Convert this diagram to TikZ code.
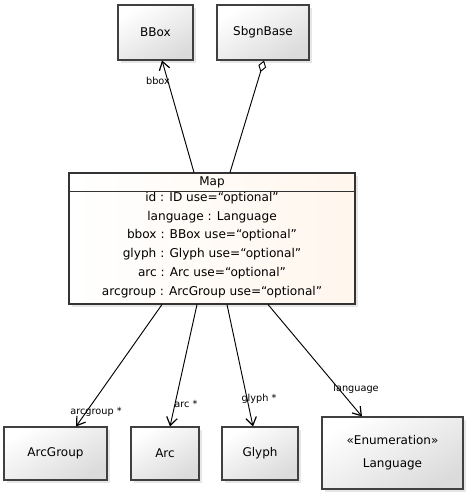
\documentclass[tikz,border=0pt]{standalone}
\usepackage{fontspec}
\setmainfont{DejaVu Sans}
\usetikzlibrary{arrows.meta,shadows}

\begin{document}
\begin{tikzpicture}[x=0.75pt, y=-0.75pt, every node/.style={font=\fontsize{9}{11}\selectfont},
	>={Straight Barb[length=6pt,width=8pt,line width=0.9pt]},
	cls/.style={draw=black!75, line width=0.8pt, top color=white, bottom color=black!14, shading angle=30, drop shadow={opacity=0.2, shadow xshift=2pt, shadow yshift=-2pt}, align=center},
	lbl/.style={font=\fontsize{7.3}{8}\selectfont, inner sep=0pt},
	assoc/.style={->, line width=0.7pt}]
	\useasboundingbox (0,0) rectangle (468,495);
	% upper classes
	\node[cls, minimum width=56.25pt, minimum height=41.25pt] (bbox) at (155.5,32.5) {BBox};
	\node[cls, minimum width=69pt, minimum height=41.25pt] (sbgnbase) at (263,32.5) {SbgnBase};
	% the Map class
	\node[draw=black!80, line width=0.8pt, left color=white, right color=orange!7, drop shadow={opacity=0.2, shadow xshift=2pt, shadow yshift=-2pt}, minimum width=214.5pt, minimum height=98.25pt] (map) at (212,238.5) {};
	\draw[black!80, line width=0.8pt] ([yshift=-14.25pt]map.north west) -- ([yshift=-14.25pt]map.north east);
	\node (maphead) at (212,182) {Map};
	\node[align=center, font=\fontsize{9.1}{14.1}\selectfont] (maprows) at (212,245) {id : ID use=“optional”\\ language : Language\\ bbox : BBox use=“optional”\\ glyph : Glyph use=“optional”\\ arc : Arc use=“optional”\\ arcgroup : ArcGroup use=“optional”};
	% lower classes
	\node[cls, minimum width=77.25pt, minimum height=39.75pt] (arcgroup) at (55.5,453.5) {ArcGroup};
	\node[cls, minimum width=51pt, minimum height=39.75pt] (arc) at (165,453.5) {Arc};
	\node[cls, minimum width=57pt, minimum height=39.75pt] (glyph) at (260,453.5) {Glyph};
	\node[cls, minimum width=105.75pt, minimum height=54pt, font=\fontsize{9}{17}\selectfont] (language) at (392.5,453) {«Enumeration»\\ Language};
	% connectors
	\draw[assoc] ([xshift=-13.5pt]map.north) -- ([xshift=4.9pt]bbox.south);
	\draw[line width=0.7pt, -{Diamond[open,length=9pt,width=6pt]}] ([xshift=13.5pt]map.north) -- ([xshift=0.75pt]sbgnbase.south);
	\draw[assoc] ([xshift=-37.5pt]map.south) -- ([xshift=15.4pt]arcgroup.north);
	\draw[assoc] ([xshift=-11.25pt]map.south) -- ([xshift=3.75pt]arc.north);
	\draw[assoc] ([xshift=11.25pt]map.south) -- ([xshift=-5.25pt]glyph.north);
	\draw[assoc] ([xshift=42pt]map.south) -- ([xshift=-22.9pt]language.north);
	% role names
	\node[lbl] (lbbox) at (158,81) {bbox};
	\node[lbl] (larcgroup) at (96,412) {arcgroup *};
	\node[lbl] (larc) at (186,404) {arc *};
	\node[lbl] (lglyph) at (259,399) {glyph *};
	\node[lbl] (llanguage) at (356,389) {language};
\end{tikzpicture}
\end{document}
